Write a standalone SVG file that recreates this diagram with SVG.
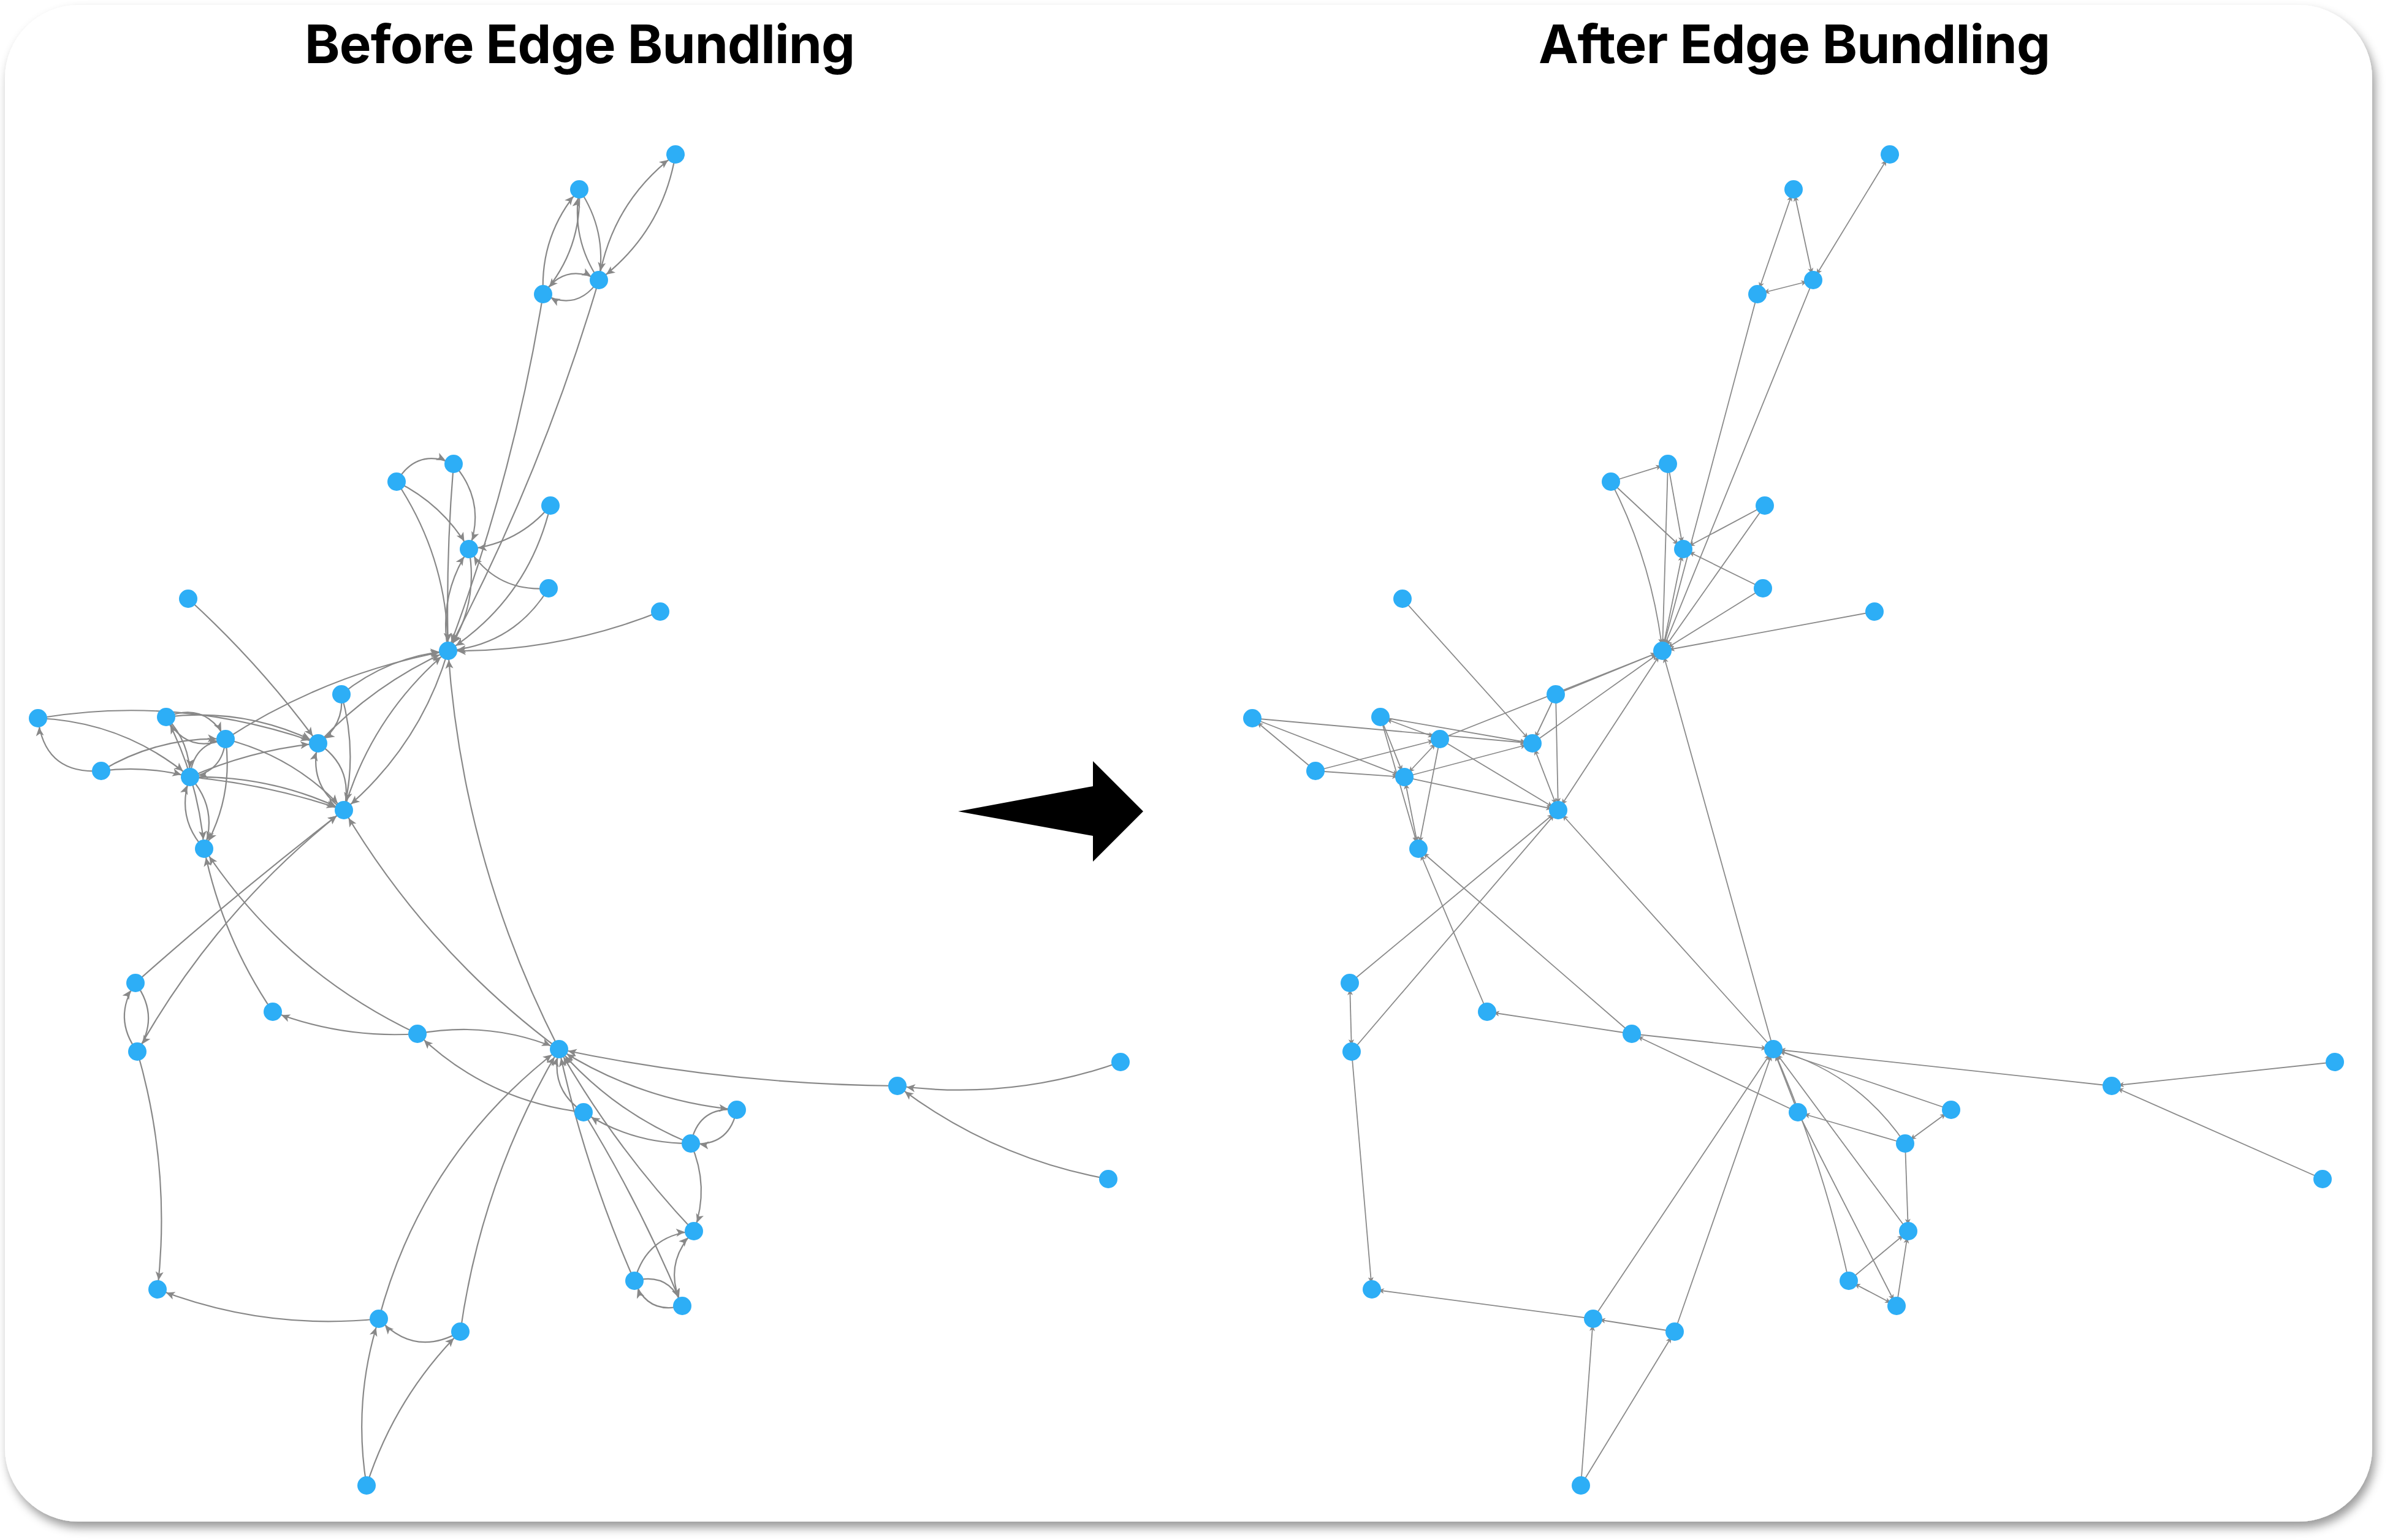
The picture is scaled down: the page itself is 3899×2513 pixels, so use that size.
<svg xmlns="http://www.w3.org/2000/svg" width="3899" height="2513" viewBox="0 0 3899 2513">
<style>
.e{fill:none;stroke:#888888;stroke-width:2.2;marker-end:url(#a)}
.r{fill:none;stroke:#8a8a8a;stroke-width:1.8;marker-end:url(#s)}
.rb{marker-start:url(#s)}
circle{fill:#2DAEF6}
.t{font-family:Inter,"Liberation Sans",Arial,sans-serif;font-weight:700;font-size:87px;fill:#000}
</style>
<defs>
<filter id="sh" x="-5%" y="-5%" width="110%" height="110%">
<feDropShadow dx="5" dy="10" stdDeviation="8" flood-color="#000" flood-opacity="0.4"/>
</filter>
<marker id="a" viewBox="-32 -8 34 16" refX="0" refY="0" markerWidth="34" markerHeight="16" markerUnits="userSpaceOnUse" orient="auto"><path d="M-15,0L-29,-6.5L-25.5,0L-29,6.5Z" fill="#888888"/></marker>
<marker id="s" viewBox="-22 -6 24 12" refX="0" refY="0" markerWidth="24" markerHeight="12" markerUnits="userSpaceOnUse" orient="auto-start-reverse"><path d="M-10,0L-20,-4.5L-17.5,0L-20,4.5Z" fill="#8a8a8a"/></marker>
</defs>
<rect x="0" y="0" width="3899" height="2513" fill="#fff"/>
<rect x="8" y="8" width="3862" height="2475" rx="120" fill="#fff" filter="url(#sh)"/>
<text class="t" x="497" y="103" textLength="898">Before Edge Bundling</text>
<text class="t" x="2510" y="103" textLength="835">After Edge Bundling</text>
<polygon id="transition-arrow" points="1563,1324 1783,1283 1783,1242 1865,1324 1783,1406 1783,1364" fill="#000"/>

<g id="edges-before">
<path class="e" d="M1102 252Q1080.5 379.5 977 457"/>
<path class="e" d="M977 457Q998.5 329.5 1102 252"/>
<path class="e" d="M945 309Q990.6 376.6 977 457"/>
<path class="e" d="M977 457Q931.4 389.4 945 309"/>
<path class="e" d="M945 309Q949.7 406.3 886 480"/>
<path class="e" d="M886 480Q881.3 382.7 945 309"/>
<path class="e" d="M977 457Q941.9 509.5 886 480"/>
<path class="e" d="M886 480Q921.1 427.5 977 457"/>
<path class="e" d="M977 457Q884.3 771.8 731 1062"/>
<path class="e" d="M886 480Q837.6 778.8 731 1062"/>
<path class="e" d="M647 786Q680.5 729.6 740 757"/>
<path class="e" d="M647 786Q722.5 823.3 765 896"/>
<path class="e" d="M647 786Q730.4 911.4 731 1062"/>
<path class="e" d="M740 757Q794.2 819 765 896"/>
<path class="e" d="M740 757Q727.2 909.5 731 1062"/>
<path class="e" d="M898 825Q845.7 887.1 765 896"/>
<path class="e" d="M898 825Q861.9 976.9 731 1062"/>
<path class="e" d="M895 960Q810.8 967 765 896"/>
<path class="e" d="M895 960Q838.5 1052 731 1062"/>
<path class="e" d="M1077 998Q910.4 1064.6 731 1062"/>
<path class="e" d="M765 896Q781.2 985.8 731 1062"/>
<path class="e" d="M731 1062Q714.8 972.2 765 896"/>
<path class="e" d="M307 977Q424.8 1084.4 519 1213"/>
<path class="e" d="M557 1133Q562 1184.4 519 1213"/>
<path class="e" d="M557 1133Q583.6 1227 561 1322"/>
<path class="e" d="M557 1133Q633.3 1071.4 731 1062"/>
<path class="e" d="M519 1213Q609.9 1116.3 731 1062"/>
<path class="e" d="M62 1172Q295.8 1133.1 519 1213"/>
<path class="e" d="M62 1172Q202.3 1177.8 310 1268"/>
<path class="e" d="M165 1258Q72.2 1264.4 62 1172"/>
<path class="e" d="M271 1170Q401.5 1154.3 519 1213"/>
<path class="e" d="M271 1170Q335.7 1144.3 368 1206"/>
<path class="e" d="M368 1206Q303.3 1231.7 271 1170"/>
<path class="e" d="M271 1170Q310.1 1211.2 310 1268"/>
<path class="e" d="M271 1170Q323.5 1271.3 333 1385"/>
<path class="e" d="M165 1258Q258.7 1201.5 368 1206"/>
<path class="e" d="M165 1258Q238.5 1248.5 310 1268"/>
<path class="e" d="M368 1206Q363.8 1260.2 310 1268"/>
<path class="e" d="M310 1268Q314.2 1213.8 368 1206"/>
<path class="e" d="M310 1268Q356.6 1319.6 333 1385"/>
<path class="e" d="M333 1385Q286.4 1333.4 310 1268"/>
<path class="e" d="M310 1268Q410.1 1223.8 519 1213"/>
<path class="e" d="M310 1268Q442 1264.9 561 1322"/>
<path class="e" d="M310 1268Q438.7 1280 561 1322"/>
<path class="e" d="M368 1206Q380.9 1301.5 333 1385"/>
<path class="e" d="M368 1206Q481.9 1235 561 1322"/>
<path class="e" d="M368 1206Q535.1 1097.7 731 1062"/>
<path class="e" d="M519 1213Q578.2 1252.8 561 1322"/>
<path class="e" d="M561 1322Q501.8 1282.2 519 1213"/>
<path class="e" d="M731 1062Q685 1217.5 561 1322"/>
<path class="e" d="M561 1322Q607 1166.5 731 1062"/>
<path class="e" d="M221 1604Q385 1458 561 1322"/>
<path class="e" d="M224 1716Q353.1 1485.3 561 1322"/>
<path class="e" d="M221 1604Q261.7 1659 224 1716"/>
<path class="e" d="M224 1716Q183.3 1661 221 1604"/>
<path class="e" d="M224 1716Q279.3 1906.7 257 2104"/>
<path class="e" d="M618 2152Q431.7 2171.3 257 2104"/>
<path class="e" d="M751 2173Q676.1 2215.7 618 2152"/>
<path class="e" d="M598 2424Q575.4 2285.6 618 2152"/>
<path class="e" d="M598 2424Q644.4 2280.1 751 2173"/>
<path class="e" d="M618 2152Q690.2 1882 912 1712"/>
<path class="e" d="M751 2173Q785.4 1926.4 912 1712"/>
<path class="e" d="M681 1687Q559 1695 445 1651"/>
<path class="e" d="M445 1651Q362.4 1529.2 333 1385"/>
<path class="e" d="M681 1687Q464.7 1584.7 333 1385"/>
<path class="e" d="M952 1815Q794.7 1797 681 1687"/>
<path class="e" d="M681 1687Q800.3 1664.9 912 1712"/>
<path class="e" d="M912 1712Q697.5 1552.1 561 1322"/>
<path class="e" d="M912 1712Q755 1405 731 1062"/>
<path class="e" d="M1464 1772Q1185 1769.6 912 1712"/>
<path class="e" d="M1828 1733Q1650.7 1796.2 1464 1772"/>
<path class="e" d="M1808 1924Q1617.8 1889.3 1464 1772"/>
<path class="e" d="M952 1815Q896 1777.5 912 1712"/>
<path class="e" d="M1127 1866Q1031.8 1866.8 952 1815"/>
<path class="e" d="M952 1815Q1045.1 1966.6 1113 2131"/>
<path class="e" d="M1202 1811Q1045.1 1796.3 912 1712"/>
<path class="e" d="M1127 1866Q1001 1814.8 912 1712"/>
<path class="e" d="M1132 2009Q1004.2 1873.7 912 1712"/>
<path class="e" d="M1035 2090Q954.6 1907.2 912 1712"/>
<path class="e" d="M1202 1811Q1189.3 1872.3 1127 1866"/>
<path class="e" d="M1127 1866Q1139.8 1804.8 1202 1811"/>
<path class="e" d="M1127 1866Q1158.1 1936.5 1132 2009"/>
<path class="e" d="M1035 2090Q1055.1 2015.5 1132 2009"/>
<path class="e" d="M1113 2131Q1079.8 2063.4 1132 2009"/>
<path class="e" d="M1035 2090Q1092.5 2075.4 1113 2131"/>
<path class="e" d="M1113 2131Q1055.5 2145.6 1035 2090"/>
</g>

<g id="nodes-before">
<g id="before-A"><circle cx="1102" cy="252" r="15"/></g>
<g id="before-B"><circle cx="945" cy="309" r="15"/></g>
<g id="before-C"><circle cx="977" cy="457" r="15"/></g>
<g id="before-D"><circle cx="886" cy="480" r="15"/></g>
<g id="before-E"><circle cx="740" cy="757" r="15"/></g>
<g id="before-F"><circle cx="647" cy="786" r="15"/></g>
<g id="before-G"><circle cx="898" cy="825" r="15"/></g>
<g id="before-H"><circle cx="765" cy="896" r="15"/></g>
<g id="before-I"><circle cx="895" cy="960" r="15"/></g>
<g id="before-J"><circle cx="1077" cy="998" r="15"/></g>
<g id="before-K"><circle cx="731" cy="1062" r="15"/></g>
<g id="before-L"><circle cx="307" cy="977" r="15"/></g>
<g id="before-M"><circle cx="557" cy="1133" r="15"/></g>
<g id="before-N"><circle cx="62" cy="1172" r="15"/></g>
<g id="before-O"><circle cx="271" cy="1170" r="15"/></g>
<g id="before-P"><circle cx="368" cy="1206" r="15"/></g>
<g id="before-Q"><circle cx="519" cy="1213" r="15"/></g>
<g id="before-R"><circle cx="165" cy="1258" r="15"/></g>
<g id="before-S"><circle cx="310" cy="1268" r="15"/></g>
<g id="before-T"><circle cx="561" cy="1322" r="15"/></g>
<g id="before-U"><circle cx="333" cy="1385" r="15"/></g>
<g id="before-V"><circle cx="221" cy="1604" r="15"/></g>
<g id="before-W"><circle cx="224" cy="1716" r="15"/></g>
<g id="before-X"><circle cx="445" cy="1651" r="15"/></g>
<g id="before-Y"><circle cx="681" cy="1687" r="15"/></g>
<g id="before-Z"><circle cx="912" cy="1712" r="15"/></g>
<g id="before-AA"><circle cx="1464" cy="1772" r="15"/></g>
<g id="before-AB"><circle cx="1828" cy="1733" r="15"/></g>
<g id="before-AC"><circle cx="1808" cy="1924" r="15"/></g>
<g id="before-AD"><circle cx="952" cy="1815" r="15"/></g>
<g id="before-AE"><circle cx="1202" cy="1811" r="15"/></g>
<g id="before-AF"><circle cx="1127" cy="1866" r="15"/></g>
<g id="before-AG"><circle cx="1132" cy="2009" r="15"/></g>
<g id="before-AH"><circle cx="1035" cy="2090" r="15"/></g>
<g id="before-AI"><circle cx="1113" cy="2131" r="15"/></g>
<g id="before-AJ"><circle cx="257" cy="2104" r="15"/></g>
<g id="before-AK"><circle cx="618" cy="2152" r="15"/></g>
<g id="before-AL"><circle cx="751" cy="2173" r="15"/></g>
<g id="before-AM"><circle cx="598" cy="2424" r="15"/></g>
</g>

<g id="edges-after">
<line class="r rb" x1="3083" y1="252" x2="2958" y2="457"/>
<line class="r rb" x1="2926" y1="309" x2="2958" y2="457"/>
<line class="r rb" x1="2926" y1="309" x2="2867" y2="480"/>
<line class="r rb" x1="2958" y1="457" x2="2867" y2="480"/>
<line class="r" x1="2958" y1="457" x2="2712" y2="1062"/>
<line class="r" x1="2867" y1="480" x2="2712" y2="1062"/>
<line class="r" x1="2628" y1="786" x2="2721" y2="757"/>
<line class="r" x1="2628" y1="786" x2="2746" y2="896"/>
<path class="r" d="M2628 786Q2694.9 916.4 2712 1062"/>
<line class="r" x1="2721" y1="757" x2="2746" y2="896"/>
<line class="r" x1="2721" y1="757" x2="2712" y2="1062"/>
<line class="r" x1="2879" y1="825" x2="2746" y2="896"/>
<line class="r" x1="2879" y1="825" x2="2712" y2="1062"/>
<line class="r" x1="2876" y1="960" x2="2746" y2="896"/>
<line class="r" x1="2876" y1="960" x2="2712" y2="1062"/>
<line class="r" x1="3058" y1="998" x2="2712" y2="1062"/>
<line class="r rb" x1="2746" y1="896" x2="2712" y2="1062"/>
<line class="r" x1="2288" y1="977" x2="2500" y2="1213"/>
<line class="r" x1="2538" y1="1133" x2="2500" y2="1213"/>
<line class="r" x1="2538" y1="1133" x2="2542" y2="1322"/>
<line class="r" x1="2538" y1="1133" x2="2712" y2="1062"/>
<line class="r" x1="2500" y1="1213" x2="2712" y2="1062"/>
<line class="r" x1="2043" y1="1172" x2="2500" y2="1213"/>
<line class="r" x1="2043" y1="1172" x2="2291" y2="1268"/>
<line class="r" x1="2146" y1="1258" x2="2043" y2="1172"/>
<line class="r" x1="2252" y1="1170" x2="2500" y2="1213"/>
<line class="r rb" x1="2252" y1="1170" x2="2349" y2="1206"/>
<line class="r" x1="2252" y1="1170" x2="2291" y2="1268"/>
<line class="r" x1="2252" y1="1170" x2="2314" y2="1385"/>
<line class="r" x1="2146" y1="1258" x2="2349" y2="1206"/>
<line class="r" x1="2146" y1="1258" x2="2291" y2="1268"/>
<line class="r rb" x1="2349" y1="1206" x2="2291" y2="1268"/>
<line class="r rb" x1="2291" y1="1268" x2="2314" y2="1385"/>
<line class="r" x1="2291" y1="1268" x2="2500" y2="1213"/>
<line class="r" x1="2291" y1="1268" x2="2542" y2="1322"/>
<line class="r" x1="2349" y1="1206" x2="2314" y2="1385"/>
<line class="r" x1="2349" y1="1206" x2="2542" y2="1322"/>
<line class="r" x1="2349" y1="1206" x2="2712" y2="1062"/>
<line class="r rb" x1="2500" y1="1213" x2="2542" y2="1322"/>
<line class="r rb" x1="2712" y1="1062" x2="2542" y2="1322"/>
<line class="r" x1="2202" y1="1604" x2="2542" y2="1322"/>
<line class="r" x1="2205" y1="1716" x2="2542" y2="1322"/>
<line class="r rb" x1="2202" y1="1604" x2="2205" y2="1716"/>
<line class="r" x1="2205" y1="1716" x2="2238" y2="2104"/>
<line class="r" x1="2599" y1="2152" x2="2238" y2="2104"/>
<line class="r" x1="2732" y1="2173" x2="2599" y2="2152"/>
<line class="r" x1="2579" y1="2424" x2="2599" y2="2152"/>
<line class="r" x1="2579" y1="2424" x2="2732" y2="2173"/>
<line class="r" x1="2599" y1="2152" x2="2893" y2="1712"/>
<line class="r" x1="2732" y1="2173" x2="2893" y2="1712"/>
<line class="r" x1="2662" y1="1687" x2="2426" y2="1651"/>
<line class="r" x1="2426" y1="1651" x2="2314" y2="1385"/>
<line class="r" x1="2662" y1="1687" x2="2314" y2="1385"/>
<line class="r" x1="2933" y1="1815" x2="2662" y2="1687"/>
<line class="r" x1="2662" y1="1687" x2="2893" y2="1712"/>
<line class="r" x1="2893" y1="1712" x2="2542" y2="1322"/>
<line class="r" x1="2893" y1="1712" x2="2712" y2="1062"/>
<line class="r" x1="3445" y1="1772" x2="2893" y2="1712"/>
<line class="r" x1="3809" y1="1733" x2="3445" y2="1772"/>
<line class="r" x1="3789" y1="1924" x2="3445" y2="1772"/>
<line class="r" x1="2933" y1="1815" x2="2893" y2="1712"/>
<line class="r" x1="3108" y1="1866" x2="2933" y2="1815"/>
<line class="r" x1="2933" y1="1815" x2="3094" y2="2131"/>
<line class="r" x1="3183" y1="1811" x2="2893" y2="1712"/>
<path class="r" d="M3108 1866Q3029 1749 2893 1712"/>
<line class="r" x1="3113" y1="2009" x2="2893" y2="1712"/>
<path class="r" d="M3016 2090Q2973.5 1894.8 2893 1712"/>
<line class="r rb" x1="3183" y1="1811" x2="3108" y2="1866"/>
<line class="r" x1="3108" y1="1866" x2="3113" y2="2009"/>
<line class="r" x1="3016" y1="2090" x2="3113" y2="2009"/>
<line class="r" x1="3094" y1="2131" x2="3113" y2="2009"/>
<line class="r rb" x1="3016" y1="2090" x2="3094" y2="2131"/>
</g>

<g id="nodes-after">
<g id="after-A"><circle cx="3083" cy="252" r="15"/></g>
<g id="after-B"><circle cx="2926" cy="309" r="15"/></g>
<g id="after-C"><circle cx="2958" cy="457" r="15"/></g>
<g id="after-D"><circle cx="2867" cy="480" r="15"/></g>
<g id="after-E"><circle cx="2721" cy="757" r="15"/></g>
<g id="after-F"><circle cx="2628" cy="786" r="15"/></g>
<g id="after-G"><circle cx="2879" cy="825" r="15"/></g>
<g id="after-H"><circle cx="2746" cy="896" r="15"/></g>
<g id="after-I"><circle cx="2876" cy="960" r="15"/></g>
<g id="after-J"><circle cx="3058" cy="998" r="15"/></g>
<g id="after-K"><circle cx="2712" cy="1062" r="15"/></g>
<g id="after-L"><circle cx="2288" cy="977" r="15"/></g>
<g id="after-M"><circle cx="2538" cy="1133" r="15"/></g>
<g id="after-N"><circle cx="2043" cy="1172" r="15"/></g>
<g id="after-O"><circle cx="2252" cy="1170" r="15"/></g>
<g id="after-P"><circle cx="2349" cy="1206" r="15"/></g>
<g id="after-Q"><circle cx="2500" cy="1213" r="15"/></g>
<g id="after-R"><circle cx="2146" cy="1258" r="15"/></g>
<g id="after-S"><circle cx="2291" cy="1268" r="15"/></g>
<g id="after-T"><circle cx="2542" cy="1322" r="15"/></g>
<g id="after-U"><circle cx="2314" cy="1385" r="15"/></g>
<g id="after-V"><circle cx="2202" cy="1604" r="15"/></g>
<g id="after-W"><circle cx="2205" cy="1716" r="15"/></g>
<g id="after-X"><circle cx="2426" cy="1651" r="15"/></g>
<g id="after-Y"><circle cx="2662" cy="1687" r="15"/></g>
<g id="after-Z"><circle cx="2893" cy="1712" r="15"/></g>
<g id="after-AA"><circle cx="3445" cy="1772" r="15"/></g>
<g id="after-AB"><circle cx="3809" cy="1733" r="15"/></g>
<g id="after-AC"><circle cx="3789" cy="1924" r="15"/></g>
<g id="after-AD"><circle cx="2933" cy="1815" r="15"/></g>
<g id="after-AE"><circle cx="3183" cy="1811" r="15"/></g>
<g id="after-AF"><circle cx="3108" cy="1866" r="15"/></g>
<g id="after-AG"><circle cx="3113" cy="2009" r="15"/></g>
<g id="after-AH"><circle cx="3016" cy="2090" r="15"/></g>
<g id="after-AI"><circle cx="3094" cy="2131" r="15"/></g>
<g id="after-AJ"><circle cx="2238" cy="2104" r="15"/></g>
<g id="after-AK"><circle cx="2599" cy="2152" r="15"/></g>
<g id="after-AL"><circle cx="2732" cy="2173" r="15"/></g>
<g id="after-AM"><circle cx="2579" cy="2424" r="15"/></g>
</g>
</svg>
